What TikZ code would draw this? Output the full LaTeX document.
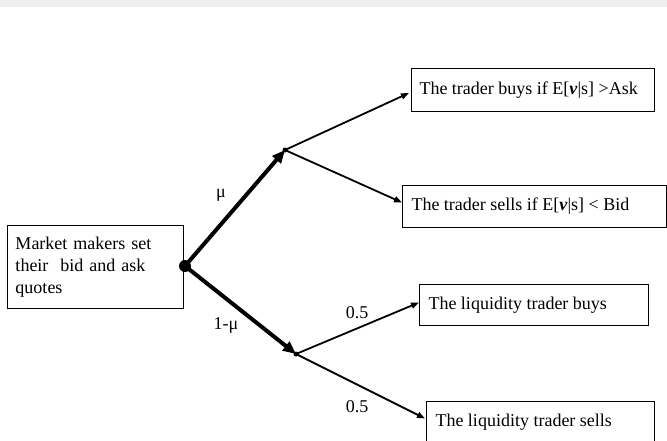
\documentclass[tikz,border=0pt]{standalone}
\usepackage{fontspec}
\setmainfont{Liberation Serif}
\usetikzlibrary{arrows.meta}
\definecolor{bandgray}{RGB}{239,239,239}
\newcommand{\boxtext}[2]{\makebox[#1][l]{#2}}
\tikzset{
  box/.style={draw=black, line width=1pt, anchor=north west, align=left, inner xsep=8pt, inner ysep=0pt,
              font=\fontsize{18}{22}\selectfont},
  lbl/.style={font=\fontsize{18}{22}\selectfont, inner sep=0pt},
  bigarrow/.style={line width=4pt, -{Triangle[length=13pt,width=11pt]}},
  thinarrow/.style={line width=1.8pt, -{Triangle[length=8pt,width=6pt]}},
  dot/.style={circle, fill=black, inner sep=0pt}
}
\begin{document}
\begin{tikzpicture}[x=1pt,y=-1pt]
\useasboundingbox (0,0) rectangle (667,440);
\clip (0,0) rectangle (667,440);
\fill[bandgray] (0,0) rectangle (667,7);

\node[box, minimum width=176pt, minimum height=83pt, text width=160pt] (mm) at (7,225)
  {Market makers set\\their\ \ bid and ask\\quotes};
\node[box, minimum width=243pt, minimum height=43pt] (tb) at (411,68)
  {\boxtext{227pt}{The trader buys if E[\textbf{\textit{v}}|s] >Ask}};
\node[box, minimum width=264pt, minimum height=42pt, inner xsep=9pt] (ts) at (402,185)
  {\boxtext{246pt}{The trader sells if E[\textbf{\textit{v}}|s] < Bid}};
\node[box, minimum width=229pt, minimum height=41pt, inner xsep=9pt] (lb) at (419,284)
  {\boxtext{211pt}{The liquidity trader buys}};
\node[box, minimum width=228pt, minimum height=42pt, inner xsep=9pt] (ls) at (426,401)
  {\boxtext{210pt}{The liquidity trader sells}};

\node[dot, minimum size=12pt] (root) at (185,266) {};
\coordinate (up) at (285,150);
\coordinate (lo) at (296,354);

\draw[bigarrow] (root.center) -- (up);
\draw[bigarrow] (root.center) -- (lo);

\draw[thinarrow] (up) -- ([xshift=-2pt,yshift=-3pt]tb.west);
\draw[thinarrow] (up) -- ([yshift=4pt]ts.west);
\draw[thinarrow] (lo) -- ([yshift=2.5pt]lb.west);
\draw[thinarrow] (lo) -- ([xshift=-1pt,yshift=4pt]ls.west);

\node[dot, minimum size=5pt] (upd) at (up) {};
\node[dot, minimum size=5pt] (lod) at (lo) {};

\node[lbl] (mu) at (221,195) {μ};
\node[lbl] (omu) at (226,325) {1-μ};
\node[lbl] (p1) at (357,313) {0.5};
\node[lbl] (p2) at (357,407) {0.5};
\end{tikzpicture}
\end{document}
